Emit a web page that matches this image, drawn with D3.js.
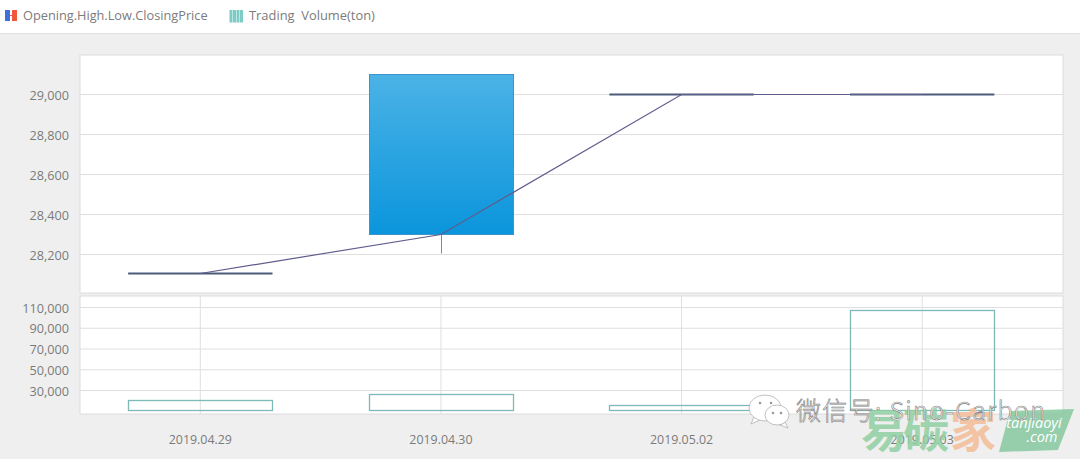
<!DOCTYPE html>
<html>
<head>
<meta charset="utf-8">
<script src="https://cdn.jsdelivr.net/npm/d3@7"></script>
<style>
  html, body { margin: 0; padding: 0; background: #efefef; }
  svg { display: block; font-family: "Open Sans", "Noto Sans", sans-serif; }
</style>
</head>
<body>
<svg id="chart"></svg>
<script>
const dates = ["2019.04.29", "2019.04.30", "2019.05.02", "2019.05.03"];
const openPrice = [28105, 28300, 29000, 29000];
const highPrice = [28105, 29100, 29000, 29000];
const lowPrice = [28105, 28205, 29000, 29000];
const closePrice = [28105, 29100, 29000, 29000];
const linePrice = [28105, 28300, 29000, 29000];
const volume = [20400, 26200, 16500, 108000];
const volumeBase = 10800;
const priceTicks = [28200, 28400, 28600, 28800, 29000];
const volumeTicks = [30000, 50000, 70000, 90000, 110000];
const legendLabels = ["Opening.High.Low.ClosingPrice", "Trading  Volume(ton)"];

const width = 1080;
const height = 459;
const plot = { left: 80, right: 1063 };
const pricePanel = { top: 55, bottom: 293 };
const volumePanel = { top: 296, bottom: 414 };
const textColor = "#7b7b7b";
const gridColor = "#dfdfdf";

const svg = d3.select("#chart").attr("width", width).attr("height", height);

const defs = svg.append("defs");
const grad = defs.append("linearGradient").attr("id", "candleFill")
    .attr("x1", 0).attr("y1", 0).attr("x2", 0).attr("y2", 1);
grad.append("stop").attr("offset", "0%").attr("stop-color", "#4bb3e6");
grad.append("stop").attr("offset", "100%").attr("stop-color", "#0b95dc");

const x = d3.scaleBand().domain(dates).range([plot.left, 1042.5]).padding(0);
const xCenter = d => x(d) + x.bandwidth() / 2;
const boxInset = x.bandwidth() * 0.2;

const yPrice = d3.scaleLinear().domain([28000, 29200]).range([294.5, 54.5]);
const yVolume = d3.scaleLinear().domain([30000, 110000]).range([390.5, 307.5]);

// top legend bar
svg.append("rect").attr("width", width).attr("height", 33).attr("fill", "#fff");
svg.append("line").attr("x1", 0).attr("x2", width).attr("y1", 33.5).attr("y2", 33.5).attr("stroke", "#e2e2e2");

const legendIcon = svg.append("g");
legendIcon.append("rect").attr("x", 5).attr("y", 10).attr("width", 5).attr("height", 11).attr("fill", "#3f6fd8");
legendIcon.append("rect").attr("x", 12).attr("y", 10).attr("width", 5).attr("height", 11).attr("fill", "#f0583a");
legendIcon.append("line").attr("x1", 10).attr("x2", 12).attr("y1", 15.5).attr("y2", 15.5).attr("stroke", "#f0583a");
svg.append("text").attr("x", 23).attr("y", 20).attr("font-size", 12.75).attr("fill", textColor).text(legendLabels[0]);

svg.append("g").selectAll("rect").data([0, 1, 2, 3]).enter().append("rect")
    .attr("x", d => 229.5 + d * 3.5).attr("y", 10).attr("width", 3).attr("height", 12.5).attr("fill", "#7ccbc5");
svg.append("text").attr("x", 249).attr("y", 20).attr("font-size", 12.9).attr("fill", textColor)
    .attr("xml:space", "preserve").text(legendLabels[1]);

// panels
[pricePanel, volumePanel].forEach(p => {
    svg.append("rect").attr("x", plot.left).attr("y", p.top)
        .attr("width", plot.right - plot.left).attr("height", p.bottom - p.top)
        .attr("fill", "#fff").attr("stroke", "#dcdcdc");
});

// price grid + labels
svg.append("g").selectAll("line").data(priceTicks).enter().append("line")
    .attr("x1", plot.left).attr("x2", plot.right)
    .attr("y1", d => yPrice(d)).attr("y2", d => yPrice(d))
    .attr("stroke", gridColor);
svg.append("g").selectAll("text").data(priceTicks).enter().append("text")
    .attr("x", 69).attr("y", d => yPrice(d) + 5)
    .attr("text-anchor", "end").attr("font-size", 12.7).attr("fill", textColor)
    .text(d => d3.format(",")(d));

// volume grid + labels
svg.append("g").selectAll("line").data(volumeTicks).enter().append("line")
    .attr("x1", plot.left).attr("x2", plot.right)
    .attr("y1", d => yVolume(d)).attr("y2", d => yVolume(d))
    .attr("stroke", gridColor);
svg.append("g").selectAll("text").data(volumeTicks).enter().append("text")
    .attr("x", 69).attr("y", d => yVolume(d) + 5)
    .attr("text-anchor", "end").attr("font-size", 12.7).attr("fill", textColor)
    .text(d => d3.format(",")(d));
svg.append("g").selectAll("line").data(dates).enter().append("line")
    .attr("x1", xCenter).attr("x2", xCenter)
    .attr("y1", volumePanel.top).attr("y2", volumePanel.bottom)
    .attr("stroke", gridColor);

// volume boxes, pixel-snapped so the outline stays crisp
const boxTop = i => Math.round(yVolume(volume[i])) + 0.5;
svg.append("g").selectAll("rect").data(dates).enter().append("rect")
    .attr("x", d => Math.round(x(d) + boxInset) + 0.5)
    .attr("width", Math.round(x.bandwidth() - 2 * boxInset))
    .attr("y", (d, i) => boxTop(i))
    .attr("height", (d, i) => Math.round(yVolume(volumeBase)) + 0.5 - boxTop(i))
    .attr("fill", "none").attr("stroke", "#7db9b6").attr("stroke-width", 1.3);

// candles
const candles = svg.append("g");
dates.forEach((d, i) => {
    const top = yPrice(Math.max(openPrice[i], closePrice[i]));
    const bottom = yPrice(Math.min(openPrice[i], closePrice[i]));
    candles.append("line")
        .attr("x1", Math.round(xCenter(d)) + 0.5).attr("x2", Math.round(xCenter(d)) + 0.5)
        .attr("y1", yPrice(highPrice[i])).attr("y2", yPrice(lowPrice[i]))
        .attr("stroke", "#3f9fd0");
    if (bottom - top > 0) {
        candles.append("rect")
            .attr("x", Math.round(x(d) + boxInset) + 0.5).attr("y", top)
            .attr("width", Math.round(x.bandwidth() - 2 * boxInset)).attr("height", bottom - top)
            .attr("fill", "url(#candleFill)").attr("stroke", "#3b95cb");
    } else {
        candles.append("line")
            .attr("x1", x(d) + boxInset).attr("x2", x(d) + x.bandwidth() - boxInset)
            .attr("y1", top).attr("y2", top)
            .attr("stroke", "#4d5b7a").attr("stroke-width", 2);
    }
});

// line through the prices
const line = d3.line().x(d => xCenter(d)).y((d, i) => yPrice(linePrice[i]));
svg.append("path").datum(dates).attr("fill", "none")
    .attr("stroke", "#5f5d8c").attr("stroke-width", 1.2).attr("d", line);

// x labels
svg.append("g").selectAll("text").data(dates).enter().append("text")
    .attr("x", xCenter).attr("y", 444)
    .attr("text-anchor", "middle").attr("font-size", 12.4).attr("fill", textColor)
    .text(d => d);

// watermarks
const logo = svg.append("g");
logo.append("path").attr("d", "M1010 411 L1074 409 L1058 450 L999 452 Z").attr("fill", "#7fc59a").attr("opacity", 0.8);
logo.append("text").attr("x", 1034).attr("y", 428).attr("text-anchor", "middle")
    .attr("font-size", 14.5).attr("font-style", "italic").attr("fill", "#fff").text("tanjiaoyi");
logo.append("text").attr("x", 1042).attr("y", 442).attr("text-anchor", "middle")
    .attr("font-size", 14.5).attr("font-style", "italic").attr("fill", "#fff").text(".com");
logo.append("text").attr("x", 861).attr("y", 447).attr("font-size", 46).attr("font-weight", 700)
    .attr("font-family", "'Noto Sans CJK SC'").attr("fill", "#8fd0a2").attr("opacity", 0.85)
    .attr("textLength", 88).text("易碳");
logo.append("text").attr("x", 950).attr("y", 447).attr("font-size", 46).attr("font-weight", 700)
    .attr("font-family", "'Noto Sans CJK SC'").attr("fill", "#f3bd98").attr("opacity", 0.85).text("家");

const wechat = svg.append("g").attr("fill", "#fff").attr("stroke", "#a8a8a8").attr("stroke-width", 0.7);
wechat.append("path").attr("d", "M754 417 L751 424 L760 420 Z");
wechat.append("ellipse").attr("cx", 765).attr("cy", 408).attr("rx", 16).attr("ry", 13);
wechat.append("path").attr("d", "M785 422 L788 428 L780 425 Z");
wechat.append("ellipse").attr("cx", 777).attr("cy", 415).attr("rx", 12).attr("ry", 10);
const wechatDots = [[760, 403], [771, 403], [773, 413], [781, 413]];
svg.append("g").selectAll("circle").data(wechatDots).enter().append("circle")
    .attr("cx", d => d[0]).attr("cy", d => d[1]).attr("r", 1.3).attr("fill", "#999");
svg.append("text").attr("x", 796).attr("y", 420).attr("font-size", 25)
    .attr("font-family", "'Noto Sans CJK SC'").attr("font-weight", 300).attr("fill", "#fff")
    .attr("stroke", "#7d7d7d").attr("stroke-width", 0.6)
    .attr("textLength", 249).text("微信号: Sino-Carbon");
</script>
</body>
</html>
